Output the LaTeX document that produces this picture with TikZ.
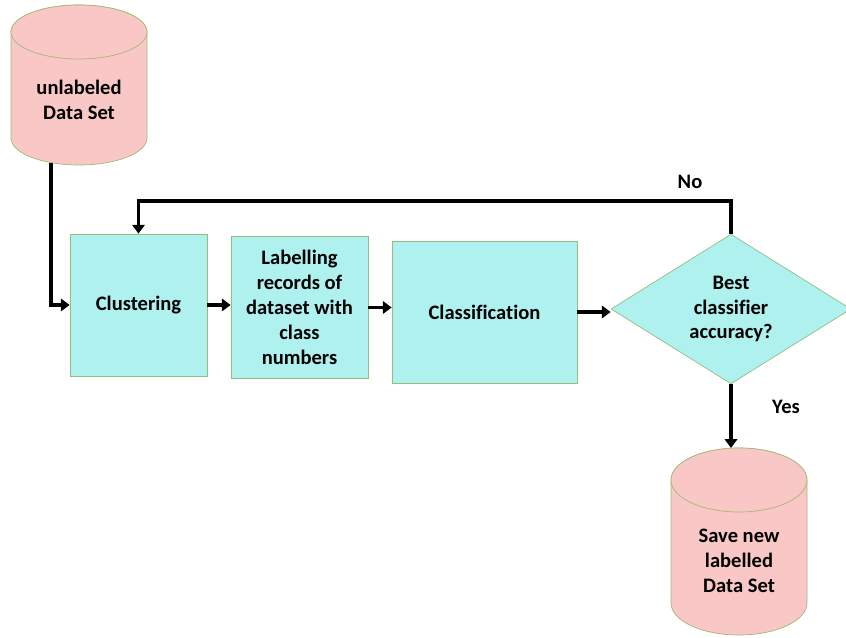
\documentclass[tikz,border=0pt]{standalone}
\usepackage{fontspec}
\setmainfont[Ligatures=NoCommon]{Carlito}
\usetikzlibrary{shapes.geometric, arrows.meta}

\definecolor{boxfill}{HTML}{AEF1EE}
\definecolor{boxline}{HTML}{93BE7E}
\definecolor{dbfill}{HTML}{F9C8C6}
\definecolor{dbline}{HTML}{A3B877}

\begin{document}
\begin{tikzpicture}[x=0.02cm, y=-0.02cm,
    every node/.style={font=\fontsize{11.7}{14.2}\selectfont\bfseries, align=center},
    procbox/.style={draw=boxline, fill=boxfill, thin, minimum height=2.84cm, inner sep=0pt},
    dbshape/.style={draw=dbline, fill=dbfill, thin},
    choice/.style={diamond, draw=boxline, fill=boxfill, thin, minimum width=4.8cm,
        minimum height=2.78cm, inner sep=0pt},
    flow/.style={line width=2.2pt, -{Triangle[width=7pt, length=5pt]}},
    lbl/.style={inner sep=0pt}]
    \useasboundingbox (0, 0) rectangle (846, 638);

    \filldraw [dbshape] (11, 32) -- (11, 138) arc [start angle=180, end angle=0, x radius=68, y radius=27]
        -- (147, 32) arc [start angle=0, end angle=-180, x radius=68, y radius=27] -- cycle;
    \draw [dbshape] (79, 32) ellipse [x radius=68, y radius=27];

    \filldraw [dbshape] (671, 480) -- (671, 603) arc [start angle=180, end angle=0, x radius=68, y radius=32]
        -- (807, 480) arc [start angle=0, end angle=-180, x radius=68, y radius=32] -- cycle;
    \draw [dbshape] (739, 480) ellipse [x radius=68, y radius=32];

    \coordinate (unlabout) at (51, 163);
    \coordinate (savedin) at (731, 448);

    \node [lbl] (unlab) at (79, 100) {unlabeled\\Data Set};
    \node [procbox, minimum width=2.74cm] (clust) at (138.5, 305) {Clustering};
    \node [procbox, minimum width=2.74cm] (label) at (299.5, 307.5) {Labelling\\records of\\dataset with\\class\\numbers};
    \node [procbox, minimum width=3.7cm] (classif) at (484.5, 312) {Classification};
    \node [choice] (best) at (731, 309) {Best\\classifier\\accuracy?};
    \node [lbl] (saved) at (739, 561) {Save new\\labelled\\Data Set};

    \node [lbl] (no) at (690, 182) {No};
    \node [lbl] (yes) at (786, 407) {Yes};

    \draw [flow] (unlabout) |- (clust.west);
    \draw [flow] (clust.east) -- (clust.east -| label.west);
    \draw [flow] (label.east) -- (label.east -| classif.west);
    \draw [flow] (classif.east) -- (classif.east -| best.west);
    \draw [flow] (best.north) -- ++(0, -33) -| (clust.north);
    \draw [flow] (best.south) -- (savedin);
\end{tikzpicture}
\end{document}
